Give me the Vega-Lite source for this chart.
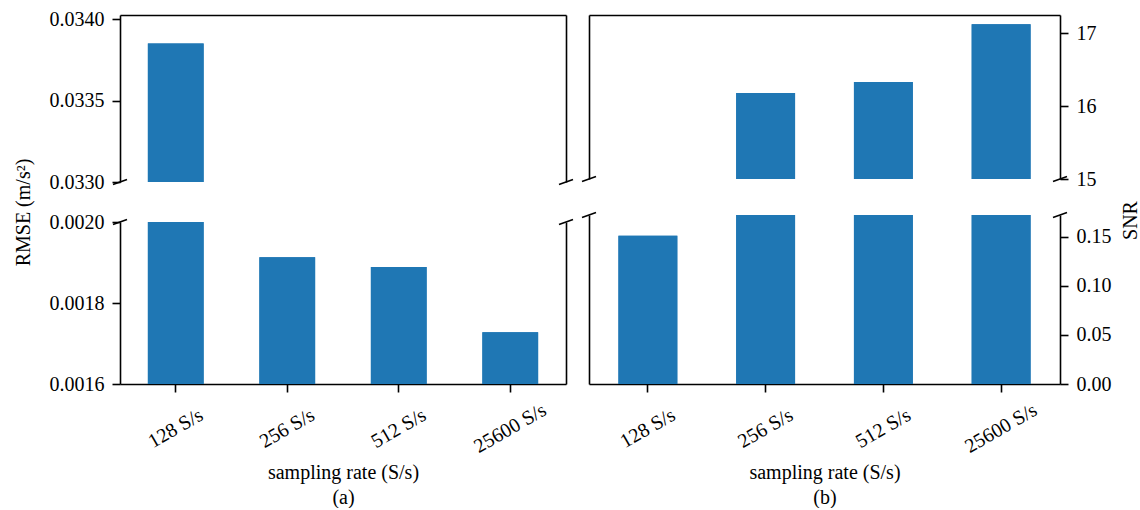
{
  "$schema": "https://vega.github.io/schema/vega-lite/v6.json",
  "padding": {"left": 13, "top": 9, "right": 0, "bottom": 0},
  "background": "white",
  "data": {"values": [
    {"rate": "128 S/s", "rmse": 0.03385, "snr": 0.151},
    {"rate": "256 S/s", "rmse": 0.001913, "snr": 16.18},
    {"rate": "512 S/s", "rmse": 0.001889, "snr": 16.33},
    {"rate": "25600 S/s", "rmse": 0.001728, "snr": 17.12}
  ]},
  "config": {
    "font": "Liberation Serif",
    "view": {"stroke": null},
    "style": {"guide-label": {"font": "Liberation Serif"}, "guide-title": {"font": "Liberation Serif"}},
    "axis": {
      "grid": false,
      "domainColor": "black", "domainWidth": 1.6,
      "tickColor": "black", "tickWidth": 1.6, "tickSize": 8,
      "labelFont": "Liberation Serif", "labelFontSize": 20, "labelColor": "black", "labelPadding": 8,
      "titleFont": "Liberation Serif", "titleFontSize": 20, "titleFontWeight": "normal", "titleColor": "black"
    }
  },
  "spacing": 1,
  "hconcat": [
    {
      "bounds": "flush",
      "spacing": 40,
      "vconcat": [
        {
          "width": 446, "height": 167,
          "layer": [
            {"mark": {"type": "bar", "clip": true, "color": "#1f77b4"},
             "encoding": {
               "x": {"field": "rate", "type": "nominal", "sort": ["128 S/s", "256 S/s", "512 S/s", "25600 S/s"], "scale": {"paddingInner": 0.5, "paddingOuter": 0.25}, "axis": {"orient": "top", "labels": false, "ticks": false, "title": null}},
               "y": {"field": "rmse", "type": "quantitative", "scale": {"domain": [0.033, 0.034025], "zero": false, "nice": false}, "axis": {"orient": "left", "values": [0.033, 0.0335, 0.034], "format": ".4f", "title": null, "labelFont": "Liberation Serif"}}
             }},
            {"mark": {"type": "bar", "clip": true, "color": "#1f77b4"},
             "encoding": {
               "x": {"field": "rate", "type": "nominal", "sort": ["128 S/s", "256 S/s", "512 S/s", "25600 S/s"], "scale": {"paddingInner": 0.5, "paddingOuter": 0.25}, "axis": {"orient": "top", "labels": false, "ticks": false, "title": null}},
               "y": {"field": "rmse", "type": "quantitative", "axis": {"orient": "right", "labels": false, "ticks": false, "title": null}}
             }},
            {"data": {"values": [{}]},
             "mark": {"type": "point", "shape": "M-1,0.35L1,-0.35", "size": 196, "stroke": "black", "strokeWidth": 1.6, "filled": false, "opacity": 1},
             "encoding": {"x": {"value": 0}, "y": {"datum": 0.033, "type": "quantitative", "axis": null}}},
            {"data": {"values": [{}]},
             "mark": {"type": "point", "shape": "M-1,0.35L1,-0.35", "size": 196, "stroke": "black", "strokeWidth": 1.6, "filled": false, "opacity": 1},
             "encoding": {"x": {"value": "width"}, "y": {"datum": 0.033, "type": "quantitative", "axis": null}}}
          ],
          "resolve": {"axis": {"y": "independent"}}
        },
        {
          "width": 446, "height": 162,
          "layer": [
            {"mark": {"type": "bar", "clip": true, "color": "#1f77b4"},
             "encoding": {
               "x": {"field": "rate", "type": "nominal", "sort": ["128 S/s", "256 S/s", "512 S/s", "25600 S/s"], "scale": {"paddingInner": 0.5, "paddingOuter": 0.25}, "axis": {"orient": "bottom", "labelFont": "Liberation Serif", "labelAngle": -30, "labelAlign": "center", "labelBaseline": "middle", "labelPadding": 36, "title": ["sampling rate (S/s)", "(a)"], "titleLineHeight": 25, "titlePadding": 6}},
               "y": {"field": "rmse", "type": "quantitative", "scale": {"domain": [0.0016, 0.002], "zero": false, "nice": false}, "axis": {"orient": "left", "labelFont": "Liberation Serif", "values": [0.0016, 0.0018, 0.002], "format": ".4f", "title": "RMSE (m/s²)", "titleX": -97, "titleY": -10, "titleAngle": 270, "titleAlign": "center", "titleBaseline": "middle"}}
             }},
            {"mark": {"type": "bar", "clip": true, "color": "#1f77b4"},
             "encoding": {
               "x": {"field": "rate", "type": "nominal", "sort": ["128 S/s", "256 S/s", "512 S/s", "25600 S/s"], "scale": {"paddingInner": 0.5, "paddingOuter": 0.25}, "axis": {"orient": "bottom", "labelFont": "Liberation Serif", "labelAngle": -30, "labelAlign": "center", "labelBaseline": "middle", "labelPadding": 36, "title": ["sampling rate (S/s)", "(a)"], "titleLineHeight": 25, "titlePadding": 6}},
               "y": {"field": "rmse", "type": "quantitative", "axis": {"orient": "right", "labels": false, "ticks": false, "title": null}}
             }},
            {"data": {"values": [{}]},
             "mark": {"type": "point", "shape": "M-1,0.35L1,-0.35", "size": 196, "stroke": "black", "strokeWidth": 1.6, "filled": false, "opacity": 1},
             "encoding": {"x": {"value": 0}, "y": {"datum": 0.002, "type": "quantitative", "axis": null}}},
            {"data": {"values": [{}]},
             "mark": {"type": "point", "shape": "M-1,0.35L1,-0.35", "size": 196, "stroke": "black", "strokeWidth": 1.6, "filled": false, "opacity": 1},
             "encoding": {"x": {"value": "width"}, "y": {"datum": 0.002, "type": "quantitative", "axis": null}}}
          ],
          "resolve": {"axis": {"y": "independent"}}
        }
      ]
    },
    {
      "bounds": "flush",
      "spacing": 36,
      "vconcat": [
        {
          "width": 471, "height": 164,
          "layer": [
            {"mark": {"type": "bar", "clip": true, "color": "#1f77b4"},
             "encoding": {
               "x": {"field": "rate", "type": "nominal", "sort": ["128 S/s", "256 S/s", "512 S/s", "25600 S/s"], "scale": {"paddingInner": 0.5, "paddingOuter": 0.25}, "axis": {"orient": "top", "labels": false, "ticks": false, "title": null}},
               "y": {"field": "snr", "type": "quantitative", "scale": {"domain": [15, 17.247], "zero": false, "nice": false}, "axis": {"orient": "right", "labelFont": "Liberation Serif", "values": [15, 16, 17], "format": "d", "title": null}}
             }},
            {"mark": {"type": "bar", "clip": true, "color": "#1f77b4"},
             "encoding": {
               "x": {"field": "rate", "type": "nominal", "sort": ["128 S/s", "256 S/s", "512 S/s", "25600 S/s"], "scale": {"paddingInner": 0.5, "paddingOuter": 0.25}, "axis": {"orient": "top", "labels": false, "ticks": false, "title": null}},
               "y": {"field": "snr", "type": "quantitative", "axis": {"orient": "left", "labels": false, "ticks": false, "title": null}}
             }},
            {"data": {"values": [{}]},
             "mark": {"type": "point", "shape": "M-1,0.35L1,-0.35", "size": 196, "stroke": "black", "strokeWidth": 1.6, "filled": false, "opacity": 1},
             "encoding": {"x": {"value": 0}, "y": {"datum": 15, "type": "quantitative", "axis": null}}},
            {"data": {"values": [{}]},
             "mark": {"type": "point", "shape": "M-1,0.35L1,-0.35", "size": 196, "stroke": "black", "strokeWidth": 1.6, "filled": false, "opacity": 1},
             "encoding": {"x": {"value": "width"}, "y": {"datum": 15, "type": "quantitative", "axis": null}}}
          ],
          "resolve": {"axis": {"y": "independent"}}
        },
        {
          "width": 471, "height": 169,
          "layer": [
            {"mark": {"type": "bar", "clip": true, "color": "#1f77b4"},
             "encoding": {
               "x": {"field": "rate", "type": "nominal", "sort": ["128 S/s", "256 S/s", "512 S/s", "25600 S/s"], "scale": {"paddingInner": 0.5, "paddingOuter": 0.25}, "axis": {"orient": "bottom", "labelFont": "Liberation Serif", "labelAngle": -30, "labelAlign": "center", "labelBaseline": "middle", "labelPadding": 36, "title": ["sampling rate (S/s)", "(b)"], "titleLineHeight": 25, "titlePadding": 6}},
               "y": {"field": "snr", "type": "quantitative", "scale": {"domain": [0, 0.172], "zero": false, "nice": false}, "axis": {"orient": "right", "labelFont": "Liberation Serif", "values": [0, 0.05, 0.1, 0.15], "format": ".2f", "title": "SNR", "titleAngle": 270, "titleX": 70, "titleY": 5, "titleAlign": "center", "titleBaseline": "middle"}}
             }},
            {"mark": {"type": "bar", "clip": true, "color": "#1f77b4"},
             "encoding": {
               "x": {"field": "rate", "type": "nominal", "sort": ["128 S/s", "256 S/s", "512 S/s", "25600 S/s"], "scale": {"paddingInner": 0.5, "paddingOuter": 0.25}, "axis": {"orient": "bottom", "labelFont": "Liberation Serif", "labelAngle": -30, "labelAlign": "center", "labelBaseline": "middle", "labelPadding": 36, "title": ["sampling rate (S/s)", "(b)"], "titleLineHeight": 25, "titlePadding": 6}},
               "y": {"field": "snr", "type": "quantitative", "axis": {"orient": "left", "labels": false, "ticks": false, "title": null}}
             }},
            {"data": {"values": [{}]},
             "mark": {"type": "point", "shape": "M-1,0.35L1,-0.35", "size": 196, "stroke": "black", "strokeWidth": 1.6, "filled": false, "opacity": 1},
             "encoding": {"x": {"value": 0}, "y": {"datum": 0.172, "type": "quantitative", "axis": null}}},
            {"data": {"values": [{}]},
             "mark": {"type": "point", "shape": "M-1,0.35L1,-0.35", "size": 196, "stroke": "black", "strokeWidth": 1.6, "filled": false, "opacity": 1},
             "encoding": {"x": {"value": "width"}, "y": {"datum": 0.172, "type": "quantitative", "axis": null}}}
          ],
          "resolve": {"axis": {"y": "independent"}}
        }
      ]
    }
  ]
}
